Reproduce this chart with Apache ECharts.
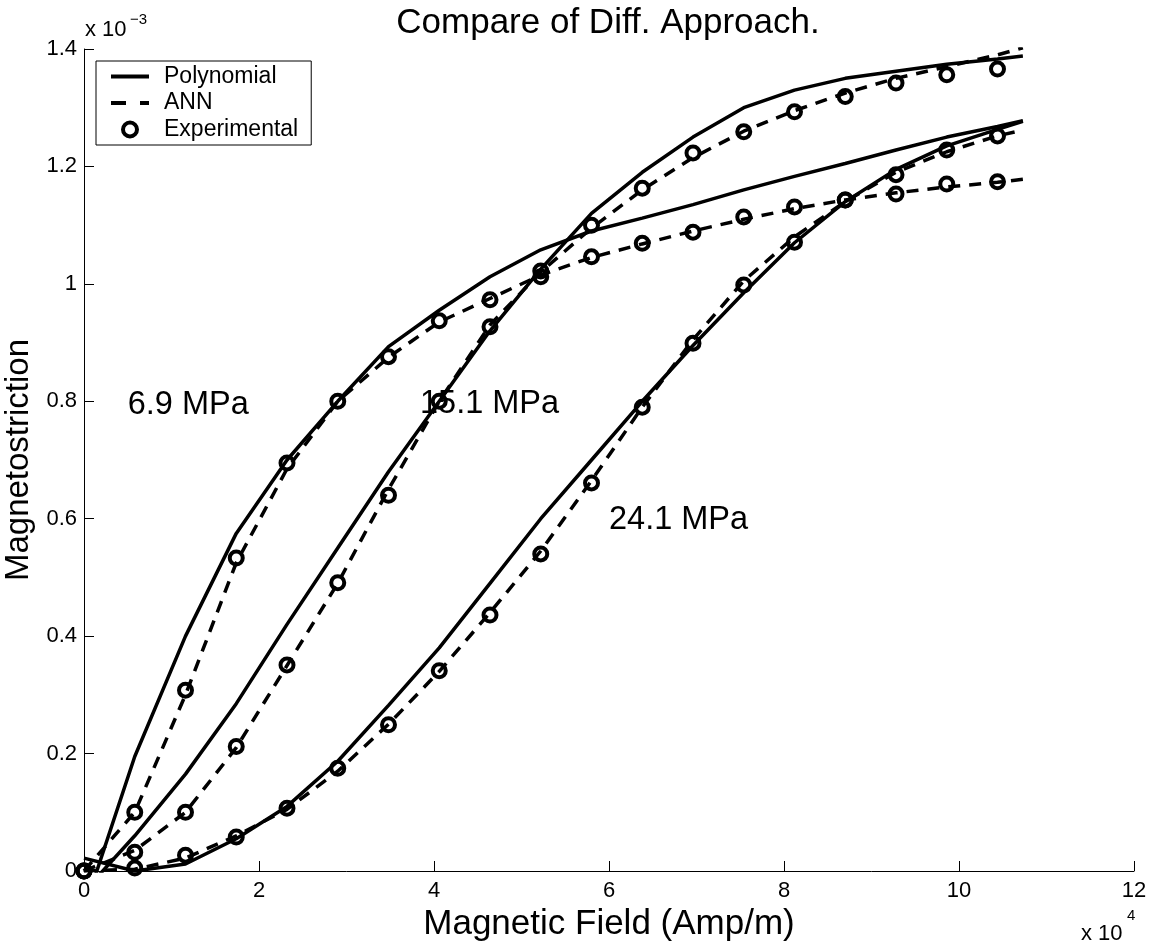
<!DOCTYPE html>
<html>
<head>
<meta charset="utf-8">
<script src="https://cdn.jsdelivr.net/npm/echarts@6/dist/echarts.min.js"></script>
<style>
html,body{margin:0;padding:0;background:#fff;}
#chart{width:1157px;height:946px;}
</style>
</head>
<body>
<div id="chart"></div>
<script>
// Magnetic field (x 10^4 Amp/m)
const fieldExp = [0, 0.58, 1.16, 1.74, 2.32, 2.90, 3.48, 4.06, 4.64, 5.22, 5.80, 6.38, 6.96, 7.54, 8.12, 8.70, 9.28, 9.86, 10.44];
const fieldFit = [0, 0.58, 1.16, 1.74, 2.32, 2.90, 3.48, 4.06, 4.64, 5.22, 5.80, 6.38, 6.96, 7.54, 8.12, 8.70, 9.28, 9.86, 10.44, 10.73];

// Magnetostriction (x 10^-3) — experimental
const exp69  = [0, 0.100, 0.308, 0.533, 0.695, 0.800, 0.876, 0.937, 0.973, 1.022, 1.046, 1.069, 1.088, 1.114, 1.131, 1.143, 1.153, 1.170, 1.174];
const exp151 = [0, 0.032, 0.100, 0.212, 0.351, 0.491, 0.640, 0.800, 0.927, 1.012, 1.100, 1.163, 1.223, 1.259, 1.293, 1.319, 1.342, 1.356, 1.366];
const exp241 = [0, 0.005, 0.027, 0.058, 0.107, 0.175, 0.249, 0.341, 0.436, 0.540, 0.661, 0.790, 0.899, 0.998, 1.071, 1.143, 1.186, 1.228, 1.252];

// Polynomial fits
const poly69  = [-0.066, 0.195, 0.400, 0.575, 0.700, 0.800, 0.893, 0.955, 1.012, 1.058, 1.090, 1.112, 1.135, 1.160, 1.183, 1.205, 1.228, 1.250, 1.268, 1.278];
const poly151 = [-0.035, 0.060, 0.165, 0.285, 0.420, 0.550, 0.680, 0.800, 0.920, 1.025, 1.120, 1.190, 1.250, 1.300, 1.330, 1.350, 1.362, 1.374, 1.383, 1.388];
const poly241 = [0.022, 0.000, 0.012, 0.055, 0.110, 0.187, 0.282, 0.380, 0.490, 0.600, 0.700, 0.800, 0.895, 0.985, 1.070, 1.140, 1.195, 1.235, 1.263, 1.277];

// ANN predictions
const ann69  = [0, 0.100, 0.300, 0.525, 0.685, 0.800, 0.875, 0.935, 0.975, 1.015, 1.045, 1.068, 1.090, 1.110, 1.128, 1.143, 1.155, 1.165, 1.173, 1.178];
const ann151 = [0, 0.035, 0.100, 0.210, 0.350, 0.490, 0.650, 0.800, 0.930, 1.020, 1.095, 1.160, 1.215, 1.260, 1.295, 1.325, 1.350, 1.370, 1.390, 1.402];
const ann241 = [0, 0.003, 0.022, 0.060, 0.105, 0.170, 0.250, 0.340, 0.440, 0.545, 0.665, 0.790, 0.905, 1.005, 1.080, 1.140, 1.190, 1.225, 1.252, 1.262];

// Annotations (text, anchored at data coordinates)
const noteText = ['6.9 MPa', '15.1 MPa', '24.1 MPa'];
const noteX = [0.50, 3.84, 6.00];
const noteY = [0.794, 0.796, 0.598];

const xTicks = [0, 2, 4, 6, 8, 10, 12];
const yTicks = [0, 0.2, 0.4, 0.6, 0.8, 1, 1.2, 1.4];

const FONT = "'Liberation Sans', Arial, Helvetica, sans-serif";
const zip = (xs, ys) => ys.map((y, i) => [xs[i], y]);

const lineW = 3.5;
function polySeries(d) {
  return { name: 'Polynomial', type: 'line', data: zip(fieldFit, d), symbol: 'none', smooth: false,
    lineStyle: { color: '#000', width: lineW, type: 'solid' }, itemStyle: { color: '#000' }, clip: true, z: 3 };
}
function annSeries(d) {
  return { name: 'ANN', type: 'line', data: zip(fieldFit, d), symbol: 'none', smooth: false,
    lineStyle: { color: '#000', width: lineW, type: [12, 9] }, itemStyle: { color: '#000' }, clip: true, z: 3 };
}
function expSeries(d) {
  return { name: 'Experimental', type: 'scatter', data: zip(fieldExp, d), symbol: 'circle', symbolSize: 13,
    itemStyle: { color: 'rgba(0,0,0,0)', borderColor: '#000', borderWidth: 4, opacity: 1 }, clip: false, z: 4 };
}

const chart = echarts.init(document.getElementById('chart'), null, { renderer: 'canvas' });
chart.setOption({
  animation: false,
  backgroundColor: '#fff',
  textStyle: { fontFamily: FONT, color: '#000' },
  title: {
    text: 'Compare of Diff. Approach.', left: 603, top: 1, textAlign: 'center',
    textStyle: { fontFamily: FONT, fontSize: 35, fontWeight: 'normal', color: '#000' }
  },
  grid: { left: 84, right: 23, top: 49, bottom: 75, containLabel: false, outerBoundsMode: 'none' },
  legend: {
    data: [
      { name: 'Polynomial', itemStyle: { opacity: 0 }, lineStyle: { color: '#000', width: 4, type: 'solid' } },
      { name: 'ANN', itemStyle: { opacity: 0 }, lineStyle: { color: '#000', width: 4, type: [15, 14] } },
      { name: 'Experimental', itemStyle: { color: 'rgba(0,0,0,0)', borderColor: '#000', borderWidth: 4, opacity: 1 } }
    ],
    orient: 'vertical', left: 96, top: 61,
    padding: [4, 13, 4, 13], itemWidth: 38, itemHeight: 14, itemGap: 3.5,
    borderColor: '#000', borderWidth: 1, backgroundColor: '#fff',
    textStyle: { fontFamily: FONT, fontSize: 23, color: '#000', padding: [0, 0, 0, 10] },
    selectedMode: false
  },
  xAxis: {
    type: 'value', min: xTicks[0], max: xTicks[xTicks.length - 1], interval: 2,
    name: 'Magnetic Field (Amp/m)', nameLocation: 'middle', nameGap: 33,
    nameTextStyle: { fontFamily: FONT, fontSize: 35, color: '#000' },
    axisLine: { show: true, onZero: false, lineStyle: { color: '#000', width: 1 } },
    axisTick: { show: true, inside: true, length: 10, lineStyle: { color: '#000', width: 1 } },
    axisLabel: { fontFamily: FONT, fontSize: 22, color: '#000', margin: 9, formatter: v => String(v) },
    splitLine: { show: false }
  },
  yAxis: {
    type: 'value', min: yTicks[0], max: yTicks[yTicks.length - 1], interval: 0.2,
    name: 'Magnetostriction', nameLocation: 'middle', nameGap: 42,
    nameTextStyle: { fontFamily: FONT, fontSize: 33, color: '#000' },
    axisLine: { show: true, onZero: false, lineStyle: { color: '#000', width: 1 } },
    axisTick: { show: true, inside: true, length: 10, lineStyle: { color: '#000', width: 1 } },
    axisLabel: { fontFamily: FONT, fontSize: 22, color: '#000', margin: 7, formatter: v => String(+v.toFixed(1)) },
    splitLine: { show: false }
  },
  graphic: [
    { type: 'text', left: 85, top: 19, style: { text: 'x 10', font: "22px " + FONT, fill: '#000' } },
    { type: 'text', left: 130, top: 12, style: { text: '\u22123', font: "15px " + FONT, fill: '#000' } },
    { type: 'text', left: 1081, top: 923, style: { text: 'x 10', font: "22px " + FONT, fill: '#000' } },
    { type: 'text', left: 1127, top: 908, style: { text: '4', font: "15px " + FONT, fill: '#000' } }
  ],
  series: [
    polySeries(poly69), polySeries(poly151), polySeries(poly241),
    annSeries(ann69), annSeries(ann151), annSeries(ann241),
    expSeries(exp69), expSeries(exp151), expSeries(exp241),
    {
      name: 'notes', type: 'scatter', symbolSize: 0, silent: true, clip: false, z: 5,
      itemStyle: { opacity: 1 },
      data: noteText.map((t, i) => [noteX[i], noteY[i], t]),
      label: { show: true, position: 'right', distance: 0, formatter: p => p.data[2],
        fontFamily: FONT, fontSize: 32.5, color: '#000', opacity: 1 }
    }
  ]
});
</script>
</body>
</html>
